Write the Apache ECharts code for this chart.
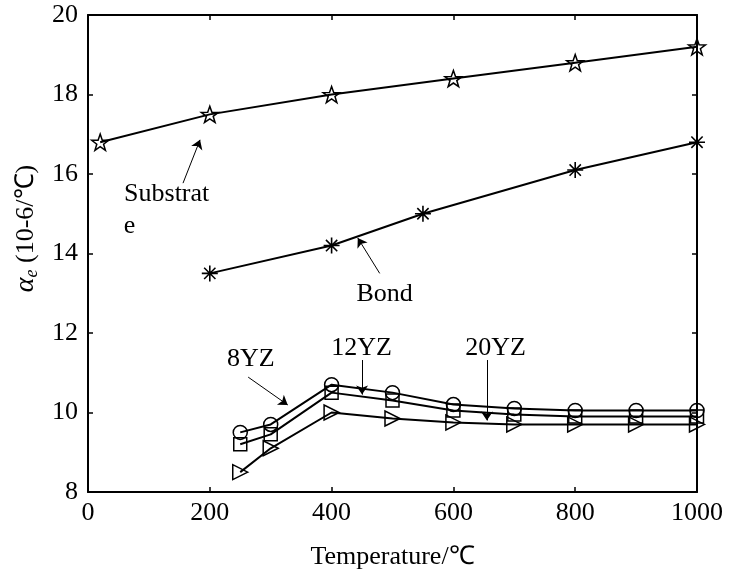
<!DOCTYPE html>
<html><head><meta charset="utf-8">
<script src="https://cdn.jsdelivr.net/npm/echarts@6/dist/echarts.min.js"></script>
<style>html,body{margin:0;padding:0;background:#fff}#c{width:729px;height:583px}</style>
</head><body><div id="c"></div>
<script>
// ---- data ----
const substrateX = [20, 200, 400, 600, 800, 1000];
const substrateY = [16.8, 17.5, 18.0, 18.4, 18.8, 19.2];
const bondX = [200, 400, 550, 800, 1000];
const bondY = [13.5, 14.2, 15.0, 16.1, 16.8];
const yzX = [250, 300, 400, 500, 600, 700, 800, 900, 1000];
const yz8 = [9.5, 9.7, 10.7, 10.5, 10.2, 10.1, 10.05, 10.05, 10.05];
const yz12 = [9.2, 9.45, 10.5, 10.3, 10.05, 9.95, 9.9, 9.9, 9.9];
const yz20 = [8.5, 9.1, 10.0, 9.85, 9.75, 9.7, 9.7, 9.7, 9.7];
const xTicks = [0, 200, 400, 600, 800, 1000];
const yTicks = [8, 10, 12, 14, 16, 18, 20];
// annotation texts [x, y, text] and arrows [[x0,y0],[x1,y1]] in data units
const noteTexts = [[130, 15.47, 'Substrat'], [69, 14.67, 'e'], [488, 12.96, 'Bond'], [268, 11.32, '8YZ'], [450, 11.6, '12YZ'], [670, 11.6, '20YZ']];
const noteArrows = [[[156, 15.77], [184, 16.86]], [[479, 13.5], [443, 14.39]], [[263, 10.89], [328, 10.19]], [[450, 11.32], [450, 10.45]], [[655, 11.32], [655, 9.8]]];

const zip = (xs, ys) => xs.map((x, i) => [x, ys[i]]);
const FONT = 'Liberation Serif';
const starPath = 'path://M0,-10 L2.35,-3.24 L9.51,-3.09 L3.8,1.24 L5.88,8.09 L0,4 L-5.88,8.09 L-3.8,1.24 L-9.51,-3.09 L-2.35,-3.24 Z';
const astPath = 'path://M-0.8,-8 h1.6 v16 h-1.6 Z M-8,-0.8 h16 v1.6 h-16 Z M-6.2,-5.1 L-5.1,-6.2 L6.2,5.1 L5.1,6.2 Z M5.1,-6.2 L6.2,-5.1 L-5.1,6.2 L-6.2,5.1 Z';
const hollow = {color: 'rgba(0,0,0,0)', borderColor: '#000', borderWidth: 1.5};
const lineS = {color: '#000', width: 2};

function ser(name, data, symbol, size, extra) {
  return Object.assign({
    name, type: 'line', data, symbol, symbolSize: size, showSymbol: true,
    lineStyle: lineS, itemStyle: hollow, z: 3
  }, extra || {});
}
const tickStyle = {inside: true, length: 5, lineStyle: {color: '#000', width: 1.5}};
const axLine = {show: true, onZero: false, lineStyle: {color: '#000', width: 2}};

const chart = echarts.init(document.getElementById('c'));
chart.setOption({
  animation: false,
  backgroundColor: '#fff',
  grid: {left: 88, right: 32, top: 15, bottom: 91, show: false},
  xAxis: [{
    type: 'value', min: 0, max: 1000, interval: 200,
    name: 'Temperature/℃', nameLocation: 'middle', nameGap: 52,
    nameTextStyle: {fontFamily: FONT, fontSize: 26, color: '#000'},
    axisLine: axLine, axisTick: tickStyle,
    axisLabel: {margin: 8, fontFamily: FONT, fontSize: 26, color: '#000',
      formatter: v => xTicks.includes(v) ? String(v) : ''},
    splitLine: {show: false}
  }, {
    type: 'value', min: 0, max: 1000, interval: 200, position: 'top',
    axisLine: axLine, axisTick: tickStyle,
    axisLabel: {show: false}, splitLine: {show: false}
  }],
  yAxis: [{
    type: 'value', min: 8, max: 20, interval: 2,
    name: '{a|α}{s|e} (10-6/℃)', nameLocation: 'middle', nameGap: 42, nameRotate: 90,
    nameTextStyle: {fontFamily: FONT, fontSize: 26, color: '#000', padding: [0, 0, 0, 50],
      rich: {a: {fontFamily: FONT, fontStyle: 'italic', fontSize: 28, color: '#000'},
             s: {fontFamily: FONT, fontStyle: 'italic', fontSize: 18, color: '#000', verticalAlign: 'bottom', padding: [12, 0, 0, 0]}}},
    axisLine: axLine, axisTick: tickStyle,
    axisLabel: {margin: 10, fontFamily: FONT, fontSize: 26, color: '#000',
      formatter: v => yTicks.includes(v) ? String(v) : ''},
    splitLine: {show: false}
  }, {
    type: 'value', min: 8, max: 20, interval: 2, position: 'right',
    axisLine: axLine, axisTick: tickStyle,
    axisLabel: {show: false}, splitLine: {show: false}
  }],
  series: [
    ser('Substrate', zip(substrateX, substrateY), starPath, 17, {symbolKeepAspect: true}),
    ser('Bond', zip(bondX, bondY), astPath, 16, {symbolKeepAspect: true, itemStyle: {color: '#000', borderWidth: 0}}),
    ser('8YZ', zip(yzX, yz8), 'circle', 14),
    ser('12YZ', zip(yzX, yz12), 'rect', 13),
    ser('20YZ', zip(yzX, yz20), 'triangle', 15, {symbolRotate: -90}),
    {
      name: 'notes', type: 'scatter', symbolSize: 1, z: 5,
      itemStyle: {color: 'rgba(0,0,0,0)'},
      data: noteTexts.map(t => ({value: [t[0], t[1]], name: t[2]})),
      label: {show: true, position: [0, 0], align: 'center', verticalAlign: 'middle',
        formatter: p => p.name, fontFamily: FONT, fontSize: 26, color: '#000',
        textBorderWidth: 0, opacity: 1},
      emphasis: {disabled: true},
      markLine: {
        silent: true, symbol: ['none', 'arrow'], symbolSize: 9, animation: false,
        label: {show: false},
        lineStyle: {color: '#000', width: 1, type: 'solid'},
        data: noteArrows.map(a => [{coord: a[0]}, {coord: a[1]}])
      }
    }
  ]
});
</script></body></html>
